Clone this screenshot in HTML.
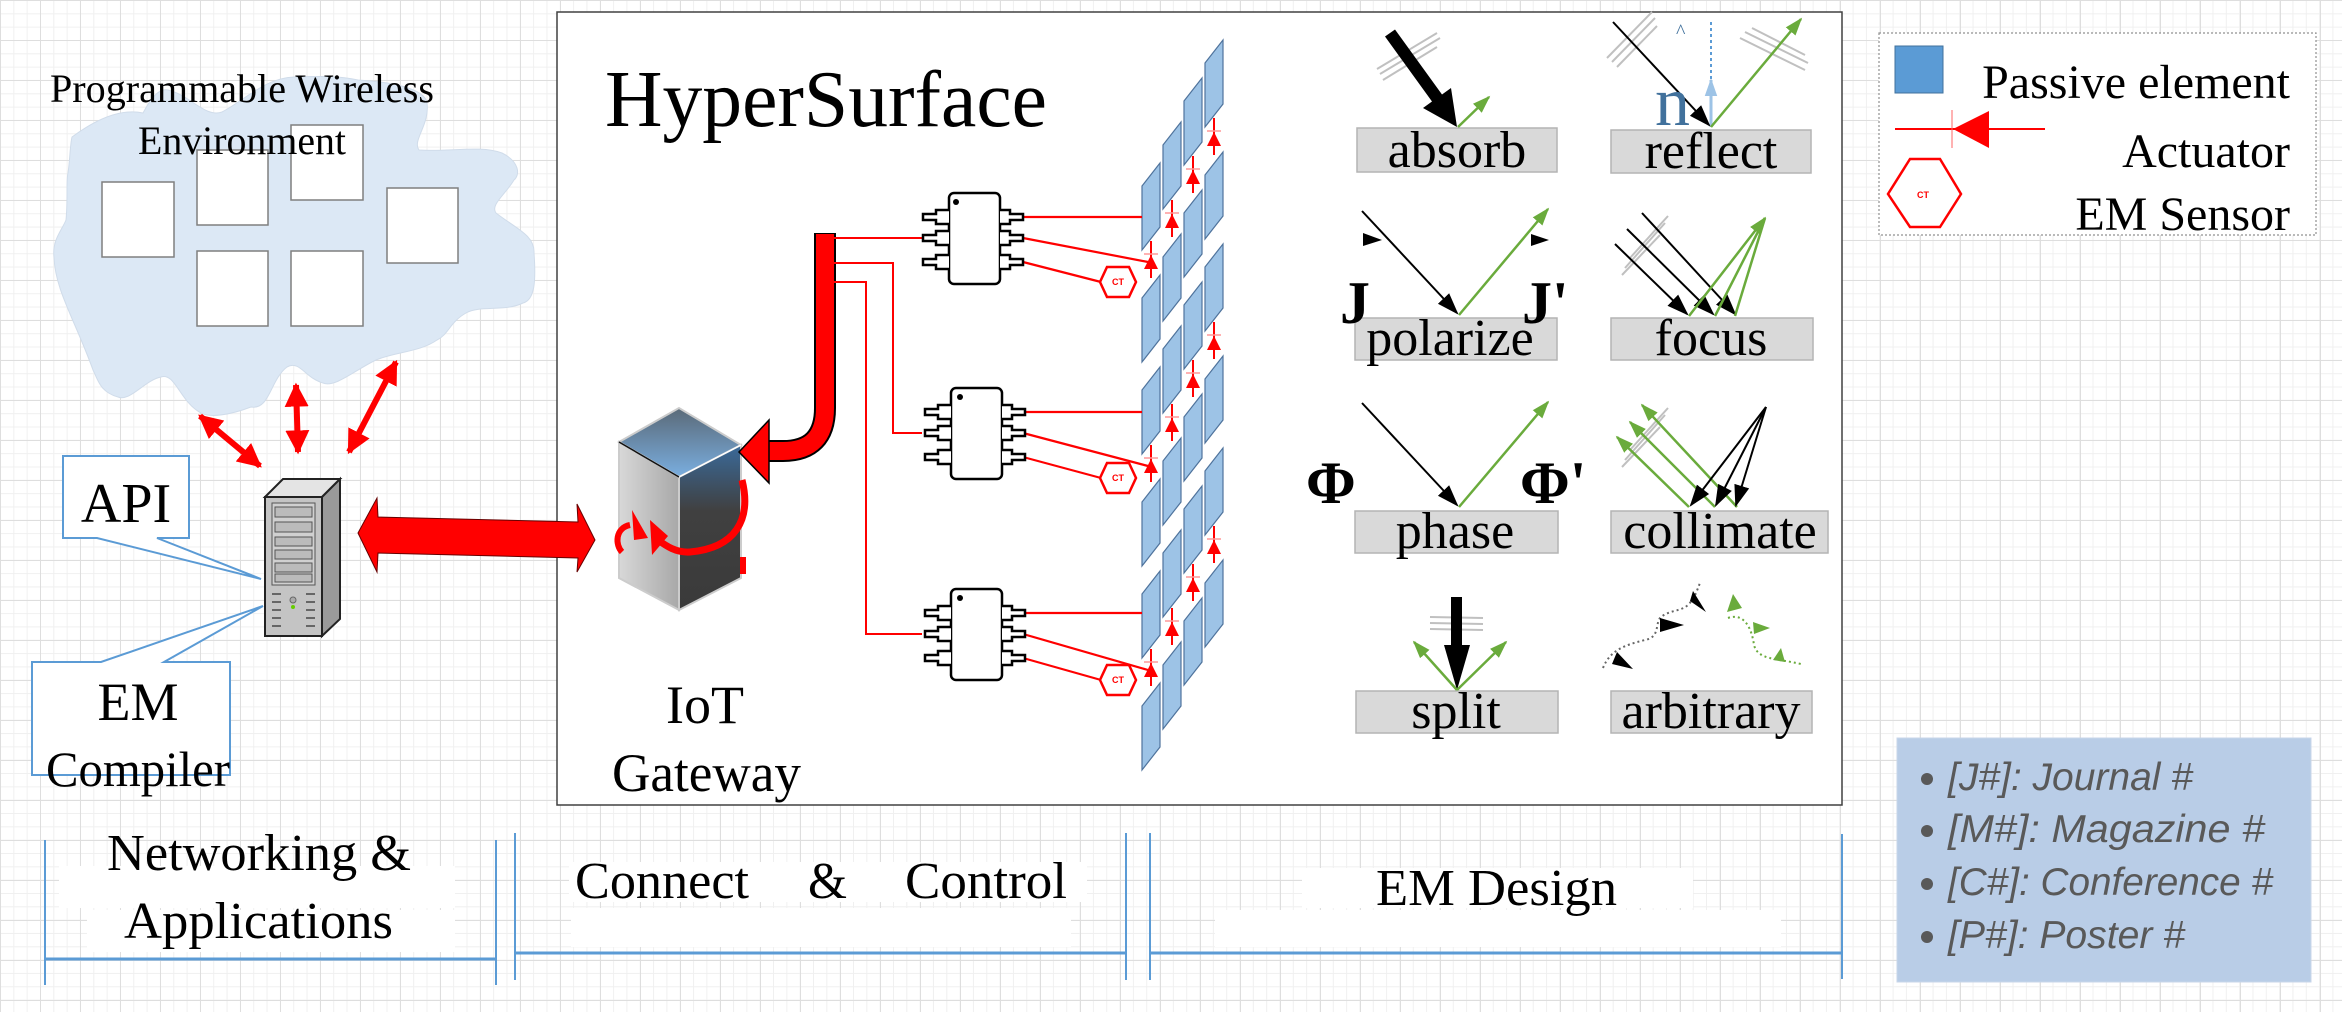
<!DOCTYPE html>
<html><head><meta charset="utf-8"><style>
html,body{margin:0;padding:0;}
body{width:2342px;height:1012px;overflow:hidden;background-color:#fff;
background-image:linear-gradient(#dedede 1px,transparent 1px),linear-gradient(90deg,#dedede 1px,transparent 1px),linear-gradient(#f0f0f0 1px,transparent 1px),linear-gradient(90deg,#f0f0f0 1px,transparent 1px);
background-size:40px 40px,40px 40px,13.333px 13.333px,13.333px 13.333px;}
svg{position:absolute;left:0;top:0;}
text{font-family:"Liberation Serif",serif;}
</style></head><body>
<svg width="2342" height="1012" viewBox="0 0 2342 1012" xmlns="http://www.w3.org/2000/svg">
<defs>
<marker id="rh" viewBox="0 0 10 10" refX="9" refY="5" markerWidth="4" markerHeight="4" orient="auto-start-reverse"><path d="M0,0L10,5L0,10z" fill="#f00"/></marker>
<marker id="bh2" viewBox="0 0 10 10" refX="9" refY="5" markerWidth="22" markerHeight="22" orient="auto" markerUnits="userSpaceOnUse"><path d="M0,1.5L10,5L0,8.5z" fill="#000"/></marker>
<marker id="gh" viewBox="0 0 10 10" refX="9" refY="5" markerWidth="18" markerHeight="18" orient="auto" markerUnits="userSpaceOnUse"><path d="M0,1.5L10,5L0,8.5z" fill="#6aab3c"/></marker>
<marker id="lb" viewBox="0 0 10 10" refX="9" refY="5" markerWidth="18" markerHeight="18" orient="auto" markerUnits="userSpaceOnUse"><path d="M0,1.5L10,5L0,8.5z" fill="#9dc3e6"/></marker>
<linearGradient id="gtop" x1="0" y1="0" x2="0" y2="1"><stop offset="0" stop-color="#5a6a78"/><stop offset="1" stop-color="#7aaee0"/></linearGradient>
<linearGradient id="gright" x1="0" y1="0" x2="0" y2="1"><stop offset="0" stop-color="#3a6a9a"/><stop offset="0.4" stop-color="#404040"/><stop offset="1" stop-color="#3a3a3a"/></linearGradient>
<linearGradient id="gleft" x1="0" y1="0" x2="1" y2="0"><stop offset="0" stop-color="#d8d8d8"/><stop offset="1" stop-color="#a8a8a8"/></linearGradient>
</defs>

<path d="M72,137 C95,120 120,108 143,113 C150,100 158,88 168,90 C190,95 205,118 222,112 C245,100 265,78 294,77 C320,76 340,76 358,80 C390,82 425,88 427,103 C430,125 412,140 419,150 C450,152 480,145 502,153 C520,162 520,175 514,180 C505,195 490,205 496,213 C515,228 535,235 534,253 C536,280 535,300 523,303 C505,312 480,305 466,313 C450,322 448,335 437,340 C420,352 395,352 376,360 C355,370 335,388 323,383 C305,378 300,360 287,367 C270,380 270,410 251,407 C230,415 210,418 201,413 C180,402 175,372 161,377 C145,380 130,402 118,397 C100,392 98,380 93,370 C75,320 55,290 54,257 C52,240 62,230 66,220 C68,200 66,180 68,173 C70,160 70,145 72,137Z" fill="#dce8f5" stroke="#d0dcea" stroke-width="1"/>
<g fill="#fff" stroke="#7f7f7f" stroke-width="1.5">
<rect x="102" y="182" width="72" height="75"/>
<rect x="197" y="150" width="71" height="75"/>
<rect x="291" y="125" width="72" height="75"/>
<rect x="387" y="188" width="71" height="75"/>
<rect x="197" y="251" width="71" height="75"/>
<rect x="291" y="251" width="72" height="75"/>
</g>
<text x="50" y="102" font-size="40" textLength="384" lengthAdjust="spacingAndGlyphs">Programmable Wireless</text>
<text x="138" y="154" font-size="40" textLength="208" lengthAdjust="spacingAndGlyphs">Environment</text>

<g stroke="#f00" stroke-width="6" marker-start="url(#rh)" marker-end="url(#rh)">
<line x1="200" y1="416" x2="260" y2="466"/>
<line x1="296" y1="385" x2="298" y2="452"/>
<line x1="396" y1="362" x2="349" y2="452"/>
</g>

<path d="M63,456 H189 V538 H157 L261,579 L97,538 H63Z" fill="#fff" stroke="#5b9bd5" stroke-width="2"/>
<text x="126" y="522" font-size="56" text-anchor="middle">API</text>
<path d="M32,662 H101 L263,606 L164,662 H230 V775 H32Z" fill="#fff" stroke="#5b9bd5" stroke-width="2"/>
<text x="138" y="720" font-size="54" text-anchor="middle">EM</text>
<text x="138" y="786" font-size="50" text-anchor="middle" textLength="184" lengthAdjust="spacingAndGlyphs">Compiler</text>

<polygon points="265,497 283,479 340,479 322,497" fill="#e4e4e4" stroke="#222" stroke-width="2"/>
<polygon points="322,497 340,479 340,619 322,636" fill="#9a9a9a" stroke="#222" stroke-width="2"/>
<rect x="265" y="497" width="57" height="139" fill="#c4c4c4" stroke="#222" stroke-width="2"/>
<rect x="272" y="503" width="43" height="82" fill="#d0d0d0" stroke="#555"/>
<g fill="#bbb" stroke="#555" stroke-width="1"><rect x="275" y="507" width="37" height="10"/><rect x="275" y="522" width="37" height="10"/><rect x="275" y="537" width="37" height="9"/><rect x="275" y="550" width="37" height="9"/><rect x="275" y="563" width="37" height="9"/><rect x="275" y="574" width="37" height="8"/></g>
<g stroke="#666" stroke-width="2"><line x1="272" y1="594" x2="281" y2="594"/><line x1="306" y1="594" x2="315" y2="594"/><line x1="272" y1="602" x2="281" y2="602"/><line x1="306" y1="602" x2="315" y2="602"/><line x1="272" y1="610" x2="281" y2="610"/><line x1="306" y1="610" x2="315" y2="610"/><line x1="272" y1="618" x2="281" y2="618"/><line x1="306" y1="618" x2="315" y2="618"/><line x1="272" y1="626" x2="281" y2="626"/><line x1="306" y1="626" x2="315" y2="626"/></g>
<circle cx="293" cy="600" r="3" fill="#aaa" stroke="#666"/><circle cx="293" cy="607" r="2" fill="#6c0"/>

<rect x="557" y="12" width="1285" height="793" fill="#fff" stroke="#404040" stroke-width="1.5"/>

<polygon points="358,533 377,498 378,517 578,522 577,504 595,540 577,572 578,558 378,553 377,572" fill="#f00" stroke="#600" stroke-width="1"/>

<text x="605" y="126" font-size="80" textLength="442" lengthAdjust="spacingAndGlyphs">HyperSurface</text>

<polygon points="619,442 679,408 741,445 679,477" fill="url(#gtop)" stroke="#ccc" stroke-width="2"/>
<polygon points="619,442 679,477 679,610 619,578" fill="url(#gleft)" stroke="#ccc" stroke-width="2"/>
<polygon points="679,477 741,445 741,578 679,610" fill="url(#gright)" stroke="#ccc" stroke-width="2"/>
<line x1="679" y1="477" x2="741" y2="445" stroke="#fff" stroke-width="1.5"/>
<line x1="619" y1="442" x2="679" y2="477" stroke="#111" stroke-width="1.5"/>
<path d="M742,480 C752,520 735,548 690,552 C675,553 665,545 655,538" fill="none" stroke="#f00" stroke-width="7"/>
<polygon points="650,520 668,536 652,555" fill="#f00"/>
<path d="M630,525 C615,528 615,545 622,552" fill="none" stroke="#f00" stroke-width="6"/>
<polygon points="632,510 648,538 634,540" fill="#f00"/>
<rect x="740" y="557" width="6" height="17" fill="#f00"/>
<text x="705" y="723" font-size="54" text-anchor="middle">IoT</text>
<text x="612" y="791" font-size="54" textLength="189" lengthAdjust="spacingAndGlyphs">Gateway</text>

<path d="M825,233 V408 Q825,451 783,451 H768" fill="none" stroke="#000" stroke-width="22"/>
<path d="M825,234 V408 Q825,451 783,451 H766" fill="none" stroke="#f00" stroke-width="18"/>
<polygon points="769,420 739,452 769,483" fill="#f00" stroke="#000" stroke-width="1.5"/>

<g fill="none" stroke="#f00" stroke-width="2">
<polyline points="834,238 922,238"/>
<polyline points="834,263 893,263 893,433 922,433"/>
<polyline points="834,282 866,282 866,634 922,634"/>
</g>

<g fill="#9dc3e6" stroke="#4f739c" stroke-width="1.2">
<polygon points="1205,63 1223,40 1223,104 1205,127"/><polygon points="1205,175 1223,152 1223,216 1205,239"/><polygon points="1205,267 1223,244 1223,308 1205,331"/><polygon points="1205,379 1223,356 1223,420 1205,443"/><polygon points="1205,471 1223,448 1223,512 1205,535"/><polygon points="1205,583 1223,560 1223,624 1205,647"/>
<polygon points="1184,101 1202,78 1202,142 1184,165"/><polygon points="1184,213 1202,190 1202,254 1184,277"/><polygon points="1184,305 1202,282 1202,346 1184,369"/><polygon points="1184,417 1202,394 1202,458 1184,481"/><polygon points="1184,509 1202,486 1202,550 1184,573"/><polygon points="1184,621 1202,598 1202,662 1184,685"/>
<polygon points="1163,145 1181,122 1181,186 1163,209"/><polygon points="1163,257 1181,234 1181,298 1163,321"/><polygon points="1163,349 1181,326 1181,390 1163,413"/><polygon points="1163,461 1181,438 1181,502 1163,525"/><polygon points="1163,553 1181,530 1181,594 1163,617"/><polygon points="1163,665 1181,642 1181,706 1163,729"/>
<polygon points="1142,186 1160,163 1160,227 1142,250"/><polygon points="1142,298 1160,275 1160,339 1142,362"/><polygon points="1142,390 1160,367 1160,431 1142,454"/><polygon points="1142,502 1160,479 1160,543 1142,566"/><polygon points="1142,594 1160,571 1160,635 1142,658"/><polygon points="1142,706 1160,683 1160,747 1142,770"/>
</g>

<g stroke="#f00" stroke-width="2">
<line x1="1214" y1="118" x2="1214" y2="155"/><line x1="1214" y1="322" x2="1214" y2="359"/><line x1="1214" y1="526" x2="1214" y2="563"/>
<line x1="1193" y1="156" x2="1193" y2="193"/><line x1="1193" y1="360" x2="1193" y2="397"/><line x1="1193" y1="564" x2="1193" y2="601"/>
<line x1="1172" y1="200" x2="1172" y2="237"/><line x1="1172" y1="404" x2="1172" y2="441"/><line x1="1172" y1="608" x2="1172" y2="645"/>
<line x1="1151" y1="241" x2="1151" y2="278"/><line x1="1151" y1="445" x2="1151" y2="482"/><line x1="1151" y1="649" x2="1151" y2="686"/>
</g>
<g fill="#f00">
<polygon points="1214,132 1207,146 1221,146"/><polygon points="1214,336 1207,350 1221,350"/><polygon points="1214,540 1207,554 1221,554"/>
<polygon points="1193,170 1186,184 1200,184"/><polygon points="1193,374 1186,388 1200,388"/><polygon points="1193,578 1186,592 1200,592"/>
<polygon points="1172,214 1165,228 1179,228"/><polygon points="1172,418 1165,432 1179,432"/><polygon points="1172,622 1165,636 1179,636"/>
<polygon points="1151,255 1144,269 1158,269"/><polygon points="1151,459 1144,473 1158,473"/><polygon points="1151,663 1144,677 1158,677"/>
</g>
<g stroke="#f99" stroke-width="1.5">
<line x1="1207" y1="131" x2="1221" y2="131"/><line x1="1207" y1="335" x2="1221" y2="335"/><line x1="1207" y1="539" x2="1221" y2="539"/>
<line x1="1186" y1="169" x2="1200" y2="169"/><line x1="1186" y1="373" x2="1200" y2="373"/><line x1="1186" y1="577" x2="1200" y2="577"/>
<line x1="1165" y1="213" x2="1179" y2="213"/><line x1="1165" y1="417" x2="1179" y2="417"/><line x1="1165" y1="621" x2="1179" y2="621"/>
<line x1="1144" y1="254" x2="1158" y2="254"/><line x1="1144" y1="458" x2="1158" y2="458"/><line x1="1144" y1="662" x2="1158" y2="662"/>
</g>

<g fill="none" stroke="#f00" stroke-width="2.2">
<line x1="1023" y1="217" x2="1142" y2="217"/><line x1="1023" y1="238" x2="1148" y2="262"/><line x1="1023" y1="262" x2="1101" y2="282"/>
<line x1="1023" y1="412" x2="1142" y2="412"/><line x1="1023" y1="433" x2="1148" y2="466"/><line x1="1023" y1="457" x2="1101" y2="478"/>
<line x1="1023" y1="613" x2="1142" y2="613"/><line x1="1023" y1="634" x2="1148" y2="670"/><line x1="1023" y1="658" x2="1101" y2="680"/>
</g>
<g fill="#fff" stroke="#000" stroke-width="2.5">
<g>
<rect x="949" y="193" width="51" height="91" rx="5"/>
<path d="M949,210 H936 V214 H923 V220 H936 V224 H949"/><path d="M949,231 H936 V235 H923 V241 H936 V245 H949"/><path d="M949,255 H936 V259 H923 V265 H936 V269 H949"/>
<path d="M1000,210 H1010 V214 H1023 V220 H1010 V224 H1000"/><path d="M1000,231 H1010 V235 H1023 V241 H1010 V245 H1000"/><path d="M1000,255 H1010 V259 H1023 V265 H1010 V269 H1000"/>
</g>
<g transform="translate(2,195)">
<rect x="949" y="193" width="51" height="91" rx="5"/>
<path d="M949,210 H936 V214 H923 V220 H936 V224 H949"/><path d="M949,231 H936 V235 H923 V241 H936 V245 H949"/><path d="M949,255 H936 V259 H923 V265 H936 V269 H949"/>
<path d="M1000,210 H1010 V214 H1023 V220 H1010 V224 H1000"/><path d="M1000,231 H1010 V235 H1023 V241 H1010 V245 H1000"/><path d="M1000,255 H1010 V259 H1023 V265 H1010 V269 H1000"/>
</g>
<g transform="translate(2,396)">
<rect x="949" y="193" width="51" height="91" rx="5"/>
<path d="M949,210 H936 V214 H923 V220 H936 V224 H949"/><path d="M949,231 H936 V235 H923 V241 H936 V245 H949"/><path d="M949,255 H936 V259 H923 V265 H936 V269 H949"/>
<path d="M1000,210 H1010 V214 H1023 V220 H1010 V224 H1000"/><path d="M1000,231 H1010 V235 H1023 V241 H1010 V245 H1000"/><path d="M1000,255 H1010 V259 H1023 V265 H1010 V269 H1000"/>
</g>
</g>
<circle cx="956" cy="202" r="3" fill="#000"/><circle cx="960" cy="397" r="3" fill="#000"/><circle cx="960" cy="598" r="3" fill="#000"/>
<g fill="#fff" stroke="#f00" stroke-width="2.5">
<polygon points="1107,267 1129,267 1136,282 1129,297 1107,297 1100,282"/>
<polygon points="1107,463 1129,463 1136,478 1129,493 1107,493 1100,478"/>
<polygon points="1107,665 1129,665 1136,680 1129,695 1107,695 1100,680"/>
</g>
<g fill="#f00" font-size="9" font-weight="bold" text-anchor="middle">
<text x="1118" y="285" style="font-family:'Liberation Sans',sans-serif">CT</text><text x="1118" y="481" style="font-family:'Liberation Sans',sans-serif">CT</text><text x="1118" y="683" style="font-family:'Liberation Sans',sans-serif">CT</text>
</g>

<g fill="#d9d9d9" stroke="#b4b4b4" stroke-width="1.5">
<rect x="1357" y="128" width="200" height="44"/><rect x="1611" y="130" width="200" height="43"/>
<rect x="1355" y="318" width="202" height="42"/><rect x="1611" y="318" width="202" height="42"/>
<rect x="1355" y="511" width="203" height="42"/><rect x="1611" y="511" width="217" height="42"/>
<rect x="1356" y="691" width="202" height="42"/><rect x="1611" y="691" width="201" height="42"/>
</g>
<g font-size="52" text-anchor="middle">
<text x="1457" y="167">absorb</text><text x="1711" y="168">reflect</text>
<text x="1450" y="355">polarize</text><text x="1711" y="355">focus</text>
<text x="1455" y="548">phase</text><text x="1720" y="548">collimate</text>
<text x="1456" y="728">split</text><text x="1711" y="728">arbitrary</text>
</g>
<g stroke="#c0c0c0" stroke-width="2" fill="none">
<line x1="1377" y1="69" x2="1437" y2="33"/><line x1="1380" y1="74" x2="1440" y2="38"/><line x1="1383" y1="80" x2="1437" y2="47"/>
<line x1="1607" y1="58" x2="1652" y2="12"/><line x1="1612" y1="62" x2="1655" y2="18"/><line x1="1617" y1="67" x2="1657" y2="26"/>
<line x1="1740" y1="38" x2="1805" y2="70"/><line x1="1745" y1="32" x2="1808" y2="63"/><line x1="1752" y1="28" x2="1805" y2="55"/>
<line x1="1625" y1="268" x2="1665" y2="223"/><line x1="1630" y1="258" x2="1668" y2="216"/><line x1="1622" y1="275" x2="1660" y2="235"/>
<line x1="1625" y1="460" x2="1665" y2="415"/><line x1="1630" y1="450" x2="1668" y2="408"/><line x1="1622" y1="467" x2="1660" y2="427"/>
<line x1="1430" y1="617" x2="1483" y2="618"/><line x1="1430" y1="623" x2="1483" y2="624"/><line x1="1430" y1="629" x2="1483" y2="630"/>
</g>
<!-- absorb -->
<polygon points="1395,29.5 1442,94.5 1451,88 1457,127 1423,108 1432,101.5 1385,36.5" fill="#000"/>
<line x1="1458" y1="127" x2="1489" y2="97" stroke="#6aab3c" stroke-width="2.5" marker-end="url(#gh)"/>
<!-- reflect -->
<line x1="1711" y1="22" x2="1711" y2="80" stroke="#5b9bd5" stroke-width="2" stroke-dasharray="3,3"/>
<line x1="1711" y1="127" x2="1711" y2="80" stroke="#9dc3e6" stroke-width="3" marker-end="url(#lb)"/>
<line x1="1613" y1="22" x2="1709" y2="125" stroke="#000" stroke-width="2" marker-end="url(#bh2)"/>
<line x1="1711" y1="127" x2="1801" y2="19" stroke="#6aab3c" stroke-width="2.5" marker-end="url(#gh)"/>
<text x="1655" y="125" font-size="70" fill="#41719c">n</text>
<text x="1676" y="38" font-size="20" fill="#41719c">^</text>
<!-- polarize -->
<line x1="1362" y1="211" x2="1457" y2="313" stroke="#000" stroke-width="2" marker-end="url(#bh2)"/>
<line x1="1459" y1="315" x2="1548" y2="209" stroke="#6aab3c" stroke-width="2.5" marker-end="url(#gh)"/>
<polygon points="1363,233 1382,240 1363,246" fill="#000"/><polygon points="1531,234 1549,240 1531,246" fill="#000"/>
<text x="1340" y="323" font-size="60" font-weight="bold">J</text>
<text x="1522" y="323" font-size="60" font-weight="bold">J'</text>
<!-- focus -->
<g stroke="#000" stroke-width="2"><line x1="1642" y1="213" x2="1735" y2="314" marker-end="url(#bh2)"/><line x1="1627" y1="229" x2="1713" y2="314" marker-end="url(#bh2)"/><line x1="1615" y1="244" x2="1687" y2="314" marker-end="url(#bh2)"/></g>
<g stroke="#6aab3c" stroke-width="2.5"><line x1="1689" y1="316" x2="1765" y2="218" marker-end="url(#gh)"/><line x1="1715" y1="316" x2="1765" y2="218"/><line x1="1735" y1="316" x2="1765" y2="218"/></g>
<!-- phase -->
<line x1="1362" y1="403" x2="1457" y2="505" stroke="#000" stroke-width="2" marker-end="url(#bh2)"/>
<line x1="1459" y1="507" x2="1548" y2="402" stroke="#6aab3c" stroke-width="2.5" marker-end="url(#gh)"/>
<text x="1306" y="503" font-size="60" font-weight="bold">Φ</text>
<text x="1520" y="503" font-size="60" font-weight="bold">Φ'</text>
<!-- collimate -->
<g stroke="#6aab3c" stroke-width="2.5"><line x1="1689" y1="507" x2="1617" y2="437" marker-end="url(#gh)"/><line x1="1715" y1="507" x2="1630" y2="422" marker-end="url(#gh)"/><line x1="1737" y1="507" x2="1642" y2="405" marker-end="url(#gh)"/></g>
<g stroke="#000" stroke-width="2"><line x1="1766" y1="407" x2="1691" y2="505" marker-end="url(#bh2)"/><line x1="1766" y1="407" x2="1716" y2="505" marker-end="url(#bh2)"/><line x1="1766" y1="407" x2="1736" y2="505" marker-end="url(#bh2)"/></g>
<!-- split -->
<polygon points="1451,597 1462,597 1462,645 1470,645 1457,690 1444,645 1451,645" fill="#000"/>
<line x1="1457" y1="690" x2="1414" y2="642" stroke="#6aab3c" stroke-width="2.5" marker-end="url(#gh)"/>
<line x1="1457" y1="690" x2="1506" y2="642" stroke="#6aab3c" stroke-width="2.5" marker-end="url(#gh)"/>
<!-- arbitrary -->
<path d="M1603,668 C1610,650 1625,645 1645,640 C1660,637 1655,625 1660,618 C1668,610 1680,612 1688,605 C1695,598 1697,590 1700,583" fill="none" stroke="#666" stroke-width="2" stroke-dasharray="2,3"/>
<path d="M1728,618 C1745,612 1752,630 1754,645 C1758,660 1775,658 1801,664" fill="none" stroke="#6aab3c" stroke-width="2" stroke-dasharray="2,3"/>
<polygon points="1617,652 1633,669 1612,664" fill="#000"/><polygon points="1660,618 1684,625 1660,632" fill="#000"/><polygon points="1690,601 1706,612 1693,591" fill="#000"/>
<polygon points="1733,594 1727,612 1742,608" fill="#6aab3c"/><polygon points="1753,622 1770,628 1754,634" fill="#6aab3c"/><polygon points="1781,648 1785,662 1773,660" fill="#6aab3c"/>

<rect x="1879" y="33" width="437" height="202" fill="#fff" stroke="#909090" stroke-width="1.2" stroke-dasharray="2,2"/>
<rect x="1895" y="46" width="48" height="47" fill="#5b9bd5" stroke="#41719c" stroke-width="1"/>
<text x="2290" y="98" font-size="48" text-anchor="end">Passive element</text>
<line x1="1895" y1="129" x2="2045" y2="129" stroke="#f00" stroke-width="2"/>
<line x1="1952" y1="110" x2="1952" y2="148" stroke="#f66" stroke-width="1"/>
<polygon points="1953,129 1989,111 1989,148" fill="#f00"/>
<text x="2290" y="167" font-size="48" text-anchor="end">Actuator</text>
<polygon points="1910,159 1940,159 1961,194 1940,227 1910,227 1888,194" fill="#fff" stroke="#f00" stroke-width="2.5"/>
<text x="1923" y="198" font-size="9" fill="#f00" font-weight="bold" text-anchor="middle" style="font-family:'Liberation Sans',sans-serif">CT</text>
<text x="2290" y="230" font-size="48" text-anchor="end">EM Sensor</text>

<rect x="1897" y="738" width="414" height="244" fill="#b9cde7" stroke="#c8d6ea" stroke-width="1"/>
<g fill="#595959" font-size="39" font-style="italic">
<circle cx="1927" cy="779" r="6"/><circle cx="1927" cy="831" r="6"/><circle cx="1927" cy="884" r="6"/><circle cx="1927" cy="937" r="6"/>
<text x="1948" y="790" textLength="245" lengthAdjust="spacingAndGlyphs" style="font-family:'Liberation Sans',sans-serif">[J#]: Journal #</text>
<text x="1948" y="842" textLength="317" lengthAdjust="spacingAndGlyphs" style="font-family:'Liberation Sans',sans-serif">[M#]: Magazine #</text>
<text x="1948" y="895" textLength="325" lengthAdjust="spacingAndGlyphs" style="font-family:'Liberation Sans',sans-serif">[C#]: Conference #</text>
<text x="1948" y="948" textLength="237" lengthAdjust="spacingAndGlyphs" style="font-family:'Liberation Sans',sans-serif">[P#]: Poster #</text>
</g>

<g fill="#fff">
<rect x="59" y="866" width="396" height="42"/><rect x="87" y="910" width="368" height="42"/>
<rect x="569" y="862" width="518" height="40"/><rect x="571" y="908" width="500" height="39"/>
<rect x="1302" y="868" width="391" height="40"/><rect x="1215" y="910" width="566" height="37"/>
</g>
<g stroke="#5b9bd5" stroke-width="2" fill="none">
<line x1="45" y1="840" x2="45" y2="985"/><line x1="496" y1="840" x2="496" y2="985"/><line x1="45" y1="959" x2="496" y2="959" stroke-width="3"/>
<line x1="515" y1="833" x2="515" y2="980"/><line x1="1126" y1="833" x2="1126" y2="980"/><line x1="515" y1="953" x2="1126" y2="953" stroke-width="3"/>
<line x1="1150" y1="833" x2="1150" y2="980"/><line x1="1842" y1="834" x2="1842" y2="979"/><line x1="1150" y1="953" x2="1842" y2="953" stroke-width="3"/>
</g>
<g font-size="52">
<text x="107" y="870" textLength="304" lengthAdjust="spacingAndGlyphs">Networking &amp;</text>
<text x="124" y="938" textLength="269" lengthAdjust="spacingAndGlyphs">Applications</text>
<text x="575" y="898" textLength="174" lengthAdjust="spacingAndGlyphs">Connect</text>
<text x="808" y="898" textLength="39" lengthAdjust="spacingAndGlyphs">&amp;</text>
<text x="905" y="898" textLength="162" lengthAdjust="spacingAndGlyphs">Control</text>
<text x="1376" y="905" textLength="241" lengthAdjust="spacingAndGlyphs">EM Design</text>
</g>
</svg>
</body></html>
